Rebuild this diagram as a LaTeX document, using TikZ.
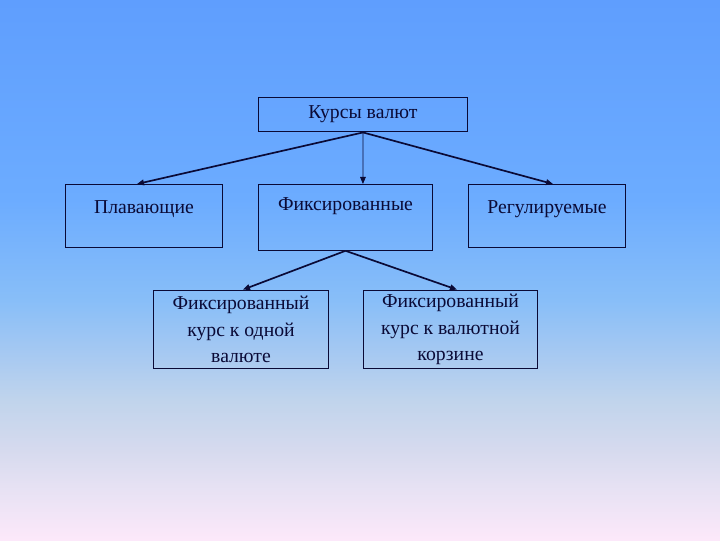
\documentclass[tikz,border=0pt]{standalone}
\usepackage{fontspec}
\setmainfont{Liberation Serif}
\usepackage{xcolor}
\usetikzlibrary{positioning, arrows.meta}

\definecolor{ink}{HTML}{0A0A36}
\pgfdeclareverticalshading{sky}{100bp}{%
  color(0bp)=(rgb,255:red,252;green,232;blue,250);
  color(25bp)=(rgb,255:red,252;green,232;blue,250);
  color(29.6bp)=(rgb,255:red,232;green,226;blue,244);
  color(33.3bp)=(rgb,255:red,214;green,218;blue,238);
  color(38bp)=(rgb,255:red,192;green,212;blue,236);
  color(42.6bp)=(rgb,255:red,164;green,200;blue,242);
  color(47.2bp)=(rgb,255:red,136;green,190;blue,248);
  color(56.5bp)=(rgb,255:red,108;green,172;blue,255);
  color(75bp)=(rgb,255:red,95;green,158;blue,254);
  color(100bp)=(rgb,255:red,95;green,158;blue,254)}

\begin{document}
\begin{tikzpicture}[
      x=0.025cm, y=-0.025cm,
      font=\fontsize{14}{19}\selectfont,
      box/.style={draw=ink, line width=0.7pt, text=ink, align=center, inner xsep=0pt, inner ysep=0pt},
      arr/.style={-{Triangle[length=5pt, width=4pt]}, draw=ink, line width=1.2pt},
      thinarr/.style={-{Triangle[length=5pt, width=4pt]}, draw=ink, line width=0.6pt},
    ]
    % background
    \shade[shading=sky] (0,0) rectangle (720,540);
    \useasboundingbox (0,0) rectangle (720,540);

    \node[box, minimum width=148.9pt, minimum height=24.8pt] (kurs) at (363,114.5) {Курсы валют};

    \node[box, anchor=north, minimum width=112pt, text height=20.6pt, text depth=24.1pt] (plav) at (144,184) {Плавающие};
    \node[box, anchor=north, minimum width=124pt, text height=18.6pt, text depth=28.2pt] (fiks) at (345.5,184) {Фиксированные};
    \node[box, anchor=north, minimum width=112pt, text height=20.6pt, text depth=24.1pt] (reg) at (547,184) {Регулируемые};

    \node[box, minimum width=124.8pt, minimum height=56pt] (odna) at (241,329.5) {Фиксированный\\курс к одной\\валюте};
    \node[box, minimum width=124pt, minimum height=56pt] (korz) at (450.5,329.5) {Фиксированный\\курс к валютной\\корзине};

    \draw[arr] (kurs.south) -- ([xshift=-5pt]plav.north);
    \draw[thinarr] (kurs.south) -- ([xshift=12.4pt]fiks.north);
    \draw[arr] (kurs.south) -- ([xshift=4.3pt]reg.north);
    \draw[arr] (fiks.south) -- ([xshift=1.4pt]odna.north);
    \draw[arr] (fiks.south) -- ([xshift=4.6pt]korz.north);
  \end{tikzpicture}
\end{document}
